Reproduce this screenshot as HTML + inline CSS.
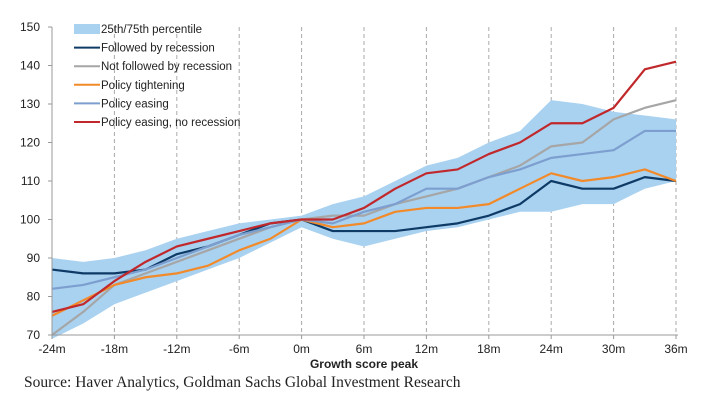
<!DOCTYPE html>
<html><head><meta charset="utf-8"><style>
body{margin:0;background:#fff;width:708px;height:407px;overflow:hidden;font-family:"Liberation Sans",sans-serif}
svg{position:absolute;left:0;top:0}
.src{position:absolute;left:24px;top:374px;font-family:"Liberation Serif",serif;font-size:15.5px;color:#222}
</style></head><body>
<svg id="chart" width="708" height="372" xmlns="http://www.w3.org/2000/svg"></svg>
<div class="src">Source: Haver Analytics, Goldman Sachs Global Investment Research</div>
<script>
const months=[-24,-21,-18,-15,-12,-9,-6,-3,0,3,6,9,12,15,18,21,24,27,30,33,36];
const bandLo=[69,73,78,81,84,87,90,94,98,95,93,95,97,98,100,102,102,104,104,108,110];
const bandHi=[90,89,90,92,95,97,99,100,101,104,106,110,114,116,120,123,131,130,128,127,126];
const recession=[87,86,86,87,91,93,96,99,100,97,97,97,98,99,101,104,110,108,108,111,110];
const noRecession=[70,76,83,86,89,92,95,98,100,101,101,104,106,108,111,114,119,120,126,129,131];
const tightening=[75,79,83,85,86,88,92,95,100,98,99,102,103,103,104,108,112,110,111,113,110];
const easing=[82,83,85,87,90,93,96,98,100,99,102,104,108,108,111,113,116,117,118,123,123];
const easingNoRec=[76,78,84,89,93,95,97,99,100,100,103,108,112,113,117,120,125,125,129,139,141];
const yTicks=[70,80,90,100,110,120,130,140,150];
const xTicks=[-24,-18,-12,-6,0,6,12,18,24,30,36];
const legendLabels=["25th/75th percentile","Followed by recession","Not followed by recession","Policy tightening","Policy easing","Policy easing, no recession"];
const NS="http://www.w3.org/2000/svg";
const svg=document.getElementById('chart');
const X=m=>52+(m+24)*10.4, Y=v=>335-(v-70)*3.85;
function mk(t,a,p){const e=document.createElementNS(NS,t);for(const k in a)e.setAttribute(k,a[k]);(p||svg).appendChild(e);return e;}
xTicks.forEach(t=>{if(t>-24){const g=mk('line',{x1:X(t),x2:X(t),y1:27,y2:335,stroke:'#aaa','stroke-dasharray':'4,3','stroke-width':1});

}});
let pts=months.map((m,i)=>X(m)+','+Y(bandHi[i])).concat(months.map((m,i)=>X(m)+','+Y(bandLo[i])).reverse());
const band=mk('polygon',{points:pts.join(' '),fill:'#a9d1f0'});


const series=[[recession,'#0e3a66','followed-by-recession-line'],[noRecession,'#a6a6a6','not-followed-by-recession-line'],[tightening,'#f28a2a','policy-tightening-line'],[easing,'#7d9fcf','policy-easing-line'],[easingNoRec,'#c0282b','policy-easing-no-recession-line']];
series.forEach(s=>{const p=mk('polyline',{points:months.map((m,i)=>X(m)+','+Y(s[0][i])).join(' '),fill:'none',stroke:s[1],'stroke-width':2.2,'stroke-linejoin':'round'});

});
mk('line',{x1:52,x2:52,y1:27,y2:335,stroke:'#999'});
mk('line',{x1:52,x2:678,y1:335,y2:335,stroke:'#999'});
yTicks.forEach(t=>{mk('line',{x1:48,x2:52,y1:Y(t),y2:Y(t),stroke:'#999'});
const tx=mk('text',{x:40,y:Y(t)+4,'text-anchor':'end','font-size':12,fill:'#222'});tx.textContent=t;

});
xTicks.forEach(t=>{mk('line',{x1:X(t),x2:X(t),y1:335,y2:339,stroke:'#999'});
const tx=mk('text',{x:X(t),y:353,'text-anchor':'middle','font-size':12,fill:'#222'});tx.textContent=t+'m';

});
const xt=mk('text',{x:364,y:368,'text-anchor':'middle','font-size':12,'font-weight':'bold',fill:'#222'});xt.textContent='Growth score peak';


const cols=['#a9d1f0','#0e3a66','#a6a6a6','#f28a2a','#7d9fcf','#c0282b'];
legendLabels.forEach((l,i)=>{const y=29+i*18.6;
if(i==0)mk('rect',{x:74,y:y-5,width:26,height:10,fill:cols[0]});else mk('line',{x1:74,x2:100,y1:y,y2:y,stroke:cols[i],'stroke-width':2});
const tx=mk('text',{x:101,y:y+4,'font-size':11.5,fill:'#222'});tx.textContent=l;

});
</script>
</body></html>
